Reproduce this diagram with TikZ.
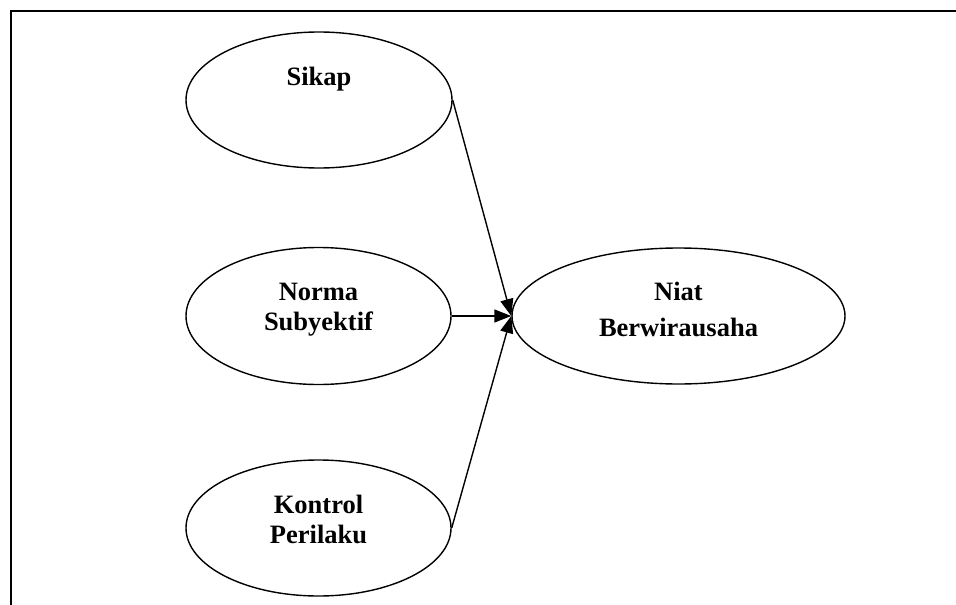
\documentclass[tikz,border=0pt]{standalone}
\usepackage{fontspec}
\setmainfont{Liberation Serif}
\usetikzlibrary{shapes.geometric,arrows.meta}

\tikzset{
  construct/.style={ellipse, draw, line width=1.4pt, inner sep=0pt},
  lbl/.style={anchor=base, inner sep=0pt,
    font=\fontsize{26.5}{30}\selectfont\bfseries},
  link/.style={line width=1.4pt, -{Triangle[length=17pt,width=13pt]}},
  frameline/.style={line width=1.8pt}
}

\begin{document}
\begin{tikzpicture}[x=1pt, y=-1pt]
  \useasboundingbox (0,0) rectangle (956,605);

  % open frame along the top and left edges
  \coordinate (fbl) at (11,605);
  \coordinate (ftl) at (11,11);
  \coordinate (ftr) at (956,11);
  \draw[frameline] (fbl) -- (ftl) -- (ftr);

  % constructs
  \node[construct, minimum width=266pt, minimum height=136pt] (sikap)   at (319,100) {};
  \node[construct, minimum width=265pt, minimum height=137pt] (norma)   at (318.5,316) {};
  \node[construct, minimum width=265pt, minimum height=136pt] (kontrol) at (318.5,528) {};
  \node[construct, minimum width=333pt, minimum height=136pt] (niat)    at (678.5,316) {};

  % labels
  \node[lbl] (sikapL)    at (319,85)    {Sikap};
  \node[lbl] (normaL1)   at (318.5,300) {Norma};
  \node[lbl] (normaL2)   at (318.5,330) {Subyektif};
  \node[lbl] (kontrolL1) at (318.5,513) {Kontrol};
  \node[lbl] (kontrolL2) at (318.5,543) {Perilaku};
  \node[lbl] (niatL1)    at (678.5,300) {Niat};
  \node[lbl] (niatL2)    at (678.5,336) {Berwirausaha};

  % paths into the intention construct
  \draw[link] (sikap.east)   -- (niat.west);
  \draw[link] (norma.east)   -- (niat.west);
  \draw[link] (kontrol.east) -- (niat.west);
\end{tikzpicture}
\end{document}
